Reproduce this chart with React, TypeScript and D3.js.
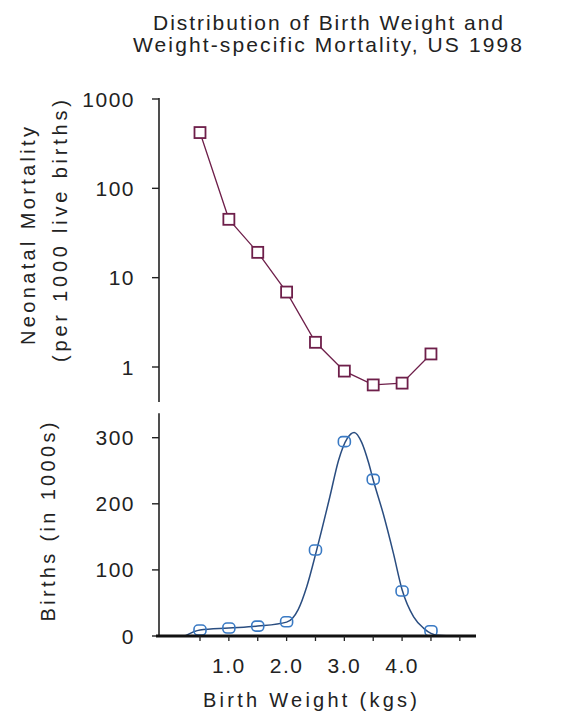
import React from "react";
import * as d3 from "d3";

const weightsKg = [0.5, 1.0, 1.5, 2.0, 2.5, 3.0, 3.5, 4.0, 4.5];
const mortality = [421, 45, 19.2, 6.9, 1.89, 0.9, 0.63, 0.66, 1.4];
const births = [9, 12, 15, 21.5, 130, 294, 237, 68, 8];

const curveKg = [0.24, 0.5, 1.0, 1.5, 2.0, 2.2, 2.35, 2.52, 2.75, 2.9, 3.05, 3.17, 3.3, 3.42, 3.5, 3.67, 3.85, 4.0, 4.2, 4.37, 4.5, 4.62, 4.96];
const curveVal = [0, 9, 12, 15, 21, 40, 75, 130, 211, 266, 299, 308, 293, 262, 236, 186, 125, 70, 29, 12, 4, 1, 0];

const xTicks = [0.5, 1.0, 1.5, 2.0, 2.5, 3.0, 3.5, 4.0, 4.5, 5.0];
const xTickLabels = ["1.0", "2.0", "3.0", "4.0"];
const mortTicks = [1, 10, 100, 1000];
const birthTicks = [0, 100, 200, 300];

const titleLines = ["Distribution of Birth Weight and", "Weight-specific Mortality, US 1998"];

const FONT = "'Liberation Sans', Arial, sans-serif";
const TXT = "#222";
const MAROON = "#6e1f4a";
const BLUE = "#3a7ac4";
const NAVY = "#2a4d80";

export default function App() {
  const x = d3.scaleLinear().domain([-0.21, 5.28]).range([159, 476]);
  const yTop = d3.scaleLog().domain([1, 1000]).range([367, 99]);
  const yBot = d3.scaleLinear().domain([0, 300]).range([636, 437.7]);
  const topMin = 0.405;
  const botMax = 337;

  const mortLine = d3
    .line<number>()
    .x((_, i) => x(weightsKg[i]))
    .y((d) => yTop(d));
  const birthCurve = d3
    .line<number>()
    .x((_, i) => x(curveKg[i]))
    .y((d) => yBot(d))
    .curve(d3.curveMonotoneX);

  const fs = 21;
  return (
    <svg
      width={584}
      height={715}
      style={{ position: "absolute", left: 0, top: 0, background: "#fff" }}
      fontFamily={FONT}
    >
      <rect width={584} height={715} fill="#fff" />
      {/* Title */}
      <text x={328} y={30} textAnchor="middle" fontSize={21} fill={TXT} textLength={350} lengthAdjust="spacing">
        {titleLines[0]}
      </text>
      <text x={327.5} y={52} textAnchor="middle" fontSize={21} fill={TXT} textLength={389} lengthAdjust="spacing">
        {titleLines[1]}
      </text>

      {/* Top axis */}
      <line x1={159} x2={159} y1={yTop(1000) - 1} y2={yTop(topMin)} stroke="#222" strokeWidth={1.6} />
      {mortTicks.map((t) => (
        <g key={"mt" + t}>
          <line x1={152} x2={159} y1={yTop(t)} y2={yTop(t)} stroke="#222" strokeWidth={1.4} />
          <text
            x={135}
            y={yTop(t) + 7.5}
            textAnchor="end"
            fontSize={fs}
            fill={TXT}
            letterSpacing={1.5}
          >
            {String(t)}
          </text>
        </g>
      ))}
      <text
        transform="translate(35,236) rotate(-90)"
        textAnchor="middle"
        fontSize={20}
        fill={TXT}
        textLength={218}
        lengthAdjust="spacing"
      >
        Neonatal Mortality
      </text>
      <text
        transform="translate(67,231) rotate(-90)"
        textAnchor="middle"
        fontSize={20}
        fill={TXT}
        textLength={262}
        lengthAdjust="spacing"
      >
        (per 1000 live births)
      </text>

      {/* Mortality series */}
      <path d={mortLine(mortality) || ""} fill="none" stroke={MAROON} strokeWidth={1.3} />
      {mortality.map((v, i) => (
        <rect
          key={"m" + i}
          x={x(weightsKg[i]) - 5.5}
          y={yTop(v) - 5.5}
          width={11}
          height={11}
          fill="#fff"
          stroke={MAROON}
          strokeWidth={1.8}
        />
      ))}

      {/* Bottom axis */}
      <line x1={159} x2={159} y1={yBot(botMax)} y2={yBot(0)} stroke="#222" strokeWidth={1.6} />
      {birthTicks.map((t) => (
        <g key={"bt" + t}>
          <line x1={152} x2={159} y1={yBot(t)} y2={yBot(t)} stroke="#222" strokeWidth={1.4} />
          <text x={135} y={yBot(t) + 7.5} textAnchor="end" fontSize={fs} fill={TXT} letterSpacing={1.5}>
            {String(t)}
          </text>
        </g>
      ))}
      <text
        transform="translate(55,522) rotate(-90)"
        textAnchor="middle"
        fontSize={20}
        fill={TXT}
        textLength={199}
        lengthAdjust="spacing"
      >
        Births (in 1000s)
      </text>

      {/* Births curve */}
      <path d={birthCurve(curveVal) || ""} fill="none" stroke={NAVY} strokeWidth={1.5} />
      {births.map((v, i) => (
        <rect
          key={"b" + i}
          x={x(weightsKg[i]) - 6}
          y={yBot(v) - 5}
          width={12}
          height={10}
          rx={4}
          fill="none"
          stroke={BLUE}
          strokeWidth={1.6}
        />
      ))}

      {/* X axis */}
      <line x1={156} x2={476} y1={yBot(0)} y2={yBot(0)} stroke="#111" strokeWidth={3} />
      {xTicks.map((t) => (
        <line key={"xt" + t} x1={x(t)} x2={x(t)} y1={yBot(0)} y2={yBot(0) + 5} stroke="#222" strokeWidth={1.3} />
      ))}
      {xTickLabels.map((l) => (
        <text key={"xl" + l} x={x(+l)} y={673} textAnchor="middle" fontSize={fs} fill={TXT} letterSpacing={1.5}>
          {l}
        </text>
      ))}
      <text x={310} y={707} textAnchor="middle" fontSize={20} fill={TXT} textLength={214} lengthAdjust="spacing">
        Birth Weight (kgs)
      </text>
    </svg>
  );
}
